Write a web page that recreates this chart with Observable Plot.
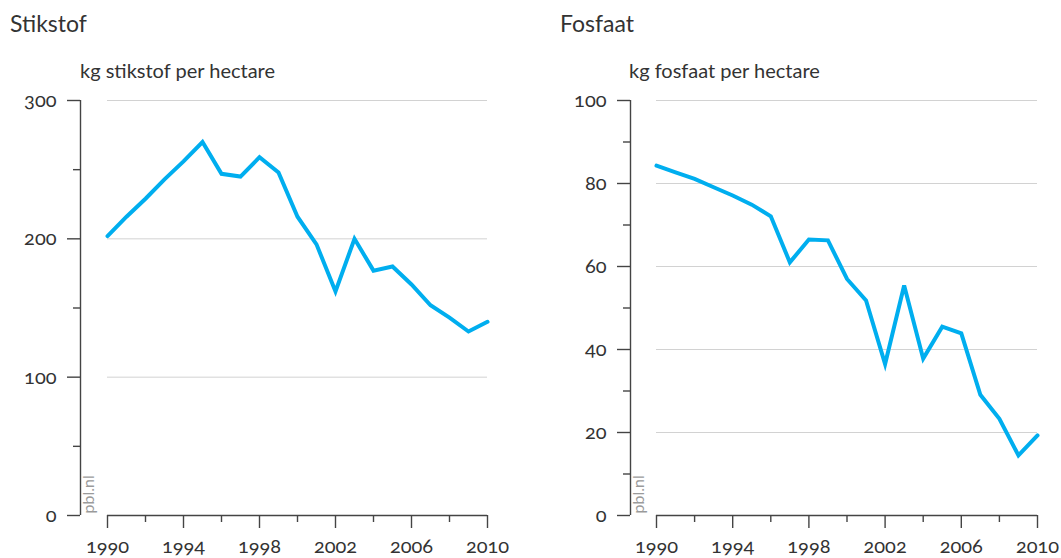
<!DOCTYPE html>
<html>
<head>
<meta charset="utf-8">
<script src="https://cdn.jsdelivr.net/npm/d3@7"></script>
<script src="https://cdn.jsdelivr.net/npm/@observablehq/plot@0.6"></script>
<style>
  body { margin: 0; background: #fff; }
  #wrap { position: relative; width: 1061px; height: 558px; font-family: Lato, "Open Sans", sans-serif; color: #333; overflow: hidden; }
  .t { position: absolute; white-space: nowrap; line-height: 1; }
  .panel { position: absolute; top: 0; }
  .panel svg text { font-variant-numeric: oldstyle-nums; font-feature-settings: "onum" 1; }
</style>
</head>
<body>
<div id="wrap">
  <div class="t" style="left:10px;top:12px;font-size:23px">Stikstof</div>
  <div class="t" style="left:560px;top:12px;font-size:23px">Fosfaat</div>
  <div class="t" style="left:80px;top:60px;font-size:20px">kg stikstof per hectare</div>
  <div class="t" style="left:629px;top:60px;font-size:20px">kg fosfaat per hectare</div>
  <div class="panel" id="left" style="left:0px"></div>
  <div class="panel" id="right" style="left:530px"></div>
</div>
<script>
const years = [1990,1991,1992,1993,1994,1995,1996,1997,1998,1999,2000,2001,2002,2003,2004,2005,2006,2007,2008,2009,2010];
const nitrogen = [202,216,229,243,256,270,247,245,259,248,216,196,162,200,177,180,167,152,143,133,140];
const phosphate = [84.3,82.7,81.1,79.1,77.1,74.9,72.1,61.0,66.5,66.3,57.0,51.8,36.5,55.4,37.8,45.5,43.9,29.1,23.3,14.5,19.3];
const xTicks = [1990,1994,1998,2002,2006,2010];
const xMinor = [1992,1996,2000,2004,2008];
const nTicks = [0,100,200,300];
const nMinor = [50,150,250];
const nGrid = [100,200,300];
const pTicks = [0,20,40,60,80,100];
const pMinor = [10,30,50,70,90];
const pGrid = [20,40,60,80,100];

const AXIS = "#444";
const LINE = "#00aeef";

function panel({values, yMax, yTicks, yMinor, yGrid, width, marginLeft, marginRight, axisDx, pblDx}) {
  const data = years.map((year, i) => ({year, value: values[i]}));
  return Plot.plot({
    width, height: 558,
    marginTop: 100, marginBottom: 43, marginLeft, marginRight,
    style: "font-family: Lato, 'Open Sans', sans-serif; font-size: 20px; color: #333; background: transparent; overflow: visible;",
    x: {domain: [1990, 2010], label: null},
    y: {domain: [0, yMax], label: null},
    marks: [
      Plot.gridY(yGrid, {stroke: "#d2d2d2", strokeOpacity: 1, strokeWidth: 1}),
      Plot.ruleX([1990], {dx: axisDx, stroke: AXIS, strokeWidth: 1.4}),
      Plot.ruleY([0], {stroke: AXIS, strokeWidth: 1.4}),
      Plot.axisY(yTicks, {tickSize: 13, tickPadding: 11, dx: axisDx, label: null, stroke: AXIS, strokeWidth: 1.4, fill: "#333", fontSize: 20}),
      Plot.axisY(yMinor, {tickSize: 7, dx: axisDx, label: null, stroke: AXIS, strokeWidth: 1.4, tickFormat: () => ""}),
      Plot.axisX(xTicks, {tickSize: 13, tickPadding: 10, label: null, stroke: AXIS, strokeWidth: 1.4, fill: "#333", fontSize: 20, tickFormat: d => String(d)}),
      Plot.axisX(xMinor, {tickSize: 7, label: null, stroke: AXIS, strokeWidth: 1.4, tickFormat: () => ""}),
      Plot.line(data, {x: "year", y: "value", stroke: LINE, strokeWidth: 4, strokeLinejoin: "miter", strokeMiterlimit: 4}),
      Plot.text(["pbl.nl"], {frameAnchor: "bottom-left", rotate: -90, textAnchor: "start", dx: pblDx, dy: -2, fill: "#9a9a9a", fontSize: 16})
    ]
  });
}

document.getElementById("left").append(panel({
  values: nitrogen, yMax: 300, yTicks: nTicks, yMinor: nMinor, yGrid: nGrid,
  width: 530, marginLeft: 107, marginRight: 43, axisDx: -27, pblDx: -14
}));
document.getElementById("right").append(panel({
  values: phosphate, yMax: 100, yTicks: pTicks, yMinor: pMinor, yGrid: pGrid,
  width: 531, marginLeft: 126, marginRight: 24, axisDx: -26, pblDx: -13
}));
</script>
</body>
</html>
